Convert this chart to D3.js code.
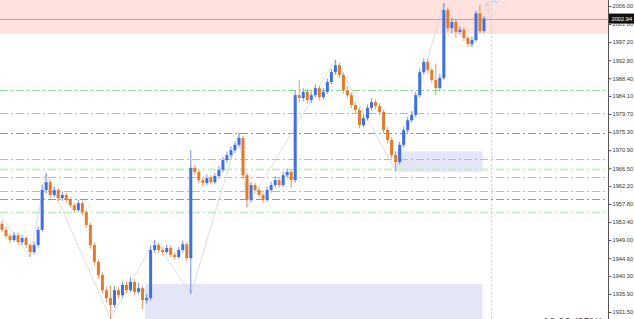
<!DOCTYPE html>
<html>
<head>
  <meta charset="utf-8">
  <script src="https://d3js.org/d3.v7.min.js"></script>
  <style>
    body { margin: 0; background: #fff; }
    svg { display: block; font-family: "Liberation Sans", Arial, sans-serif; }
  </style>
</head>
<body>
<script>
// candle data (open of each bar = previous close)
var firstOpen = 1953.0;
var closes = [1951.5,1950.0,1949.0,1950.2,1948.5,1949.5,1947.8,1946.1,1947.8,1951.5,
  1961.2,1963.1,1960.0,1961.2,1959.2,1960.0,1958.8,1957.5,1956.3,1958.0,
  1955.8,1952.7,1947.8,1943.7,1940.5,1936.8,1934.9,1933.2,1936.8,1935.6,
  1938.1,1936.8,1938.8,1936.4,1937.3,1934.4,1934.9,1946.6,1947.8,1946.6,
  1946.1,1947.1,1945.4,1944.9,1946.6,1948.0,1944.6,1966.6,1965.6,1963.6,
  1962.9,1964.1,1963.1,1964.6,1966.1,1968.5,1969.7,1970.9,1972.2,1973.9,
  1964.8,1958.8,1962.4,1961.2,1960.0,1958.8,1961.2,1962.4,1963.6,1962.4,
  1964.8,1965.6,1963.6,1984.3,1983.6,1985.1,1983.1,1984.3,1986.0,1983.8,
  1985.1,1987.5,1989.9,1991.6,1989.2,1985.5,1984.3,1981.9,1980.7,1977.0,
  1978.7,1981.2,1982.6,1981.6,1980.2,1975.8,1973.4,1969.7,1968.0,1972.2,
  1975.8,1978.2,1979.5,1984.3,1989.9,1992.4,1990.4,1988.0,1986.0,1988.5,
  2005.0,2000.6,2002.1,1999.7,2000.2,1998.2,1996.75,1997.7,2004.2,1999.9,2002.94];
var highs = [1953.8,1952.2,1950.6,1951.0,1950.8,1950.3,1950.0,1948.4,1948.6,1952.3,
  1962.5,1965.3,1963.8,1962.0,1961.8,1960.9,1960.5,1959.4,1958.1,1958.9,
  1958.6,1956.4,1953.3,1948.5,1944.3,1941.2,1937.6,1938.0,1937.8,1937.6,
  1939.0,1938.9,1939.9,1939.5,1938.6,1937.9,1935.9,1947.6,1949.0,1948.4,
  1947.3,1947.9,1947.7,1946.0,1947.3,1948.9,1948.5,1970.9,1967.4,1966.1,
  1964.3,1965.0,1964.8,1965.4,1967.0,1969.3,1970.6,1971.8,1973.0,1975.1,
  1974.4,1965.4,1963.2,1963.0,1961.9,1960.6,1962.0,1963.2,1964.5,1964.1,
  1965.7,1966.5,1966.2,1985.5,1988.0,1986.0,1985.8,1985.2,1986.9,1986.6,
  1986.0,1988.3,1990.7,1992.9,1992.2,1989.8,1986.5,1984.9,1982.6,1981.3,
  1979.6,1982.0,1983.5,1983.2,1982.3,1980.8,1976.5,1974.0,1970.6,1973.0,
  1976.6,1979.0,1980.4,1985.1,1990.8,1993.3,1993.0,1991.0,1992.0,1989.4,
  2006.7,2005.6,2003.0,2002.7,2001.0,2000.8,1998.8,1998.5,2004.9,2006.3,2003.6];
var lows = [1950.9,1949.4,1948.3,1948.6,1947.9,1947.8,1947.0,1944.9,1945.5,1947.2,
  1951.0,1960.3,1959.2,1959.4,1958.5,1958.6,1958.1,1956.9,1955.6,1955.9,
  1955.0,1952.0,1947.0,1942.8,1939.6,1935.9,1933.8,1929.8,1932.6,1934.8,
  1935.0,1936.0,1936.3,1935.6,1935.8,1932.2,1933.6,1934.3,1945.9,1945.9,
  1945.4,1945.6,1944.8,1944.2,1944.5,1946.0,1943.9,1935.9,1964.8,1962.8,
  1962.2,1962.4,1962.5,1962.6,1964.0,1965.5,1967.8,1969.0,1970.2,1971.6,
  1964.0,1957.0,1958.2,1960.5,1959.3,1958.0,1958.2,1960.6,1961.8,1961.7,
  1961.9,1964.1,1961.8,1963.0,1982.5,1982.8,1982.2,1982.4,1983.7,1983.0,
  1983.2,1984.6,1987.0,1989.3,1988.5,1984.7,1983.5,1981.1,1979.9,1976.2,
  1976.5,1978.1,1980.6,1980.9,1979.5,1975.0,1972.6,1968.9,1965.8,1967.4,
  1971.6,1975.2,1977.6,1978.9,1983.7,1989.4,1989.6,1987.3,1984.3,1985.5,
  1988.0,1999.8,1999.4,1998.2,1999.0,1997.4,1996.0,1996.1,1997.2,1999.3,1999.5];

// zigzag swing points (bar index, price)
var zzIndex = [-0.5, 7, 11, 27, 38, 47, 59, 61, 83, 98, 110, 117, 119];
var zzPrice = [1955.1, 1944.9, 1965.3, 1929.8, 1949.0, 1935.9, 1975.1, 1957.0, 1992.9, 1965.8, 2006.7, 1996.0, 2006.3];

// price axis labels
var tickValues = [2006.00, 2001.60, 1997.20, 1992.80, 1988.40, 1984.10, 1979.70, 1975.30, 1970.90,
  1966.50, 1962.20, 1957.80, 1953.40, 1949.00, 1944.60, 1940.30, 1935.90, 1931.50];
var lastPrice = 2002.94;

// horizontal levels: price and kind
var levelPrices = [1985.55, 1980.0, 1975.1, 1968.75, 1966.3, 1964.4, 1961.0, 1959.0, 1955.9];
var levelKinds  = ["green", "green", "red", "green", "light", "green", "green", "red", "light"];

// zones: [startBar, endBar, topPrice, bottomPrice]
var supplyZone = [-1, 131, 2015, 1999.2];
var demandZones = [[98, 120, 1970.6, 1965.6], [36, 120, 1938.3, 1925]];

var width = 634, height = 319, plotRight = 608;

var bars = closes.map(function (c, i) {
  return { i: i, open: i === 0 ? firstOpen : closes[i - 1], close: c, high: highs[i], low: lows[i] };
});

var svg = d3.select("body").append("svg")
  .attr("width", width)
  .attr("height", height);

var x = d3.scaleLinear().domain([0, 120]).range([2, 484]);
var y = d3.scaleLinear().domain([1931.5, 2006]).range([312, 6]);

var plot = svg.append("g");

// supply zone (pink)
plot.append("rect")
  .attr("x", 0).attr("width", plotRight)
  .attr("y", y(supplyZone[2])).attr("height", y(supplyZone[3]) - y(supplyZone[2]))
  .style("fill", "#ffe1de");

// demand zones (lavender)
plot.selectAll(".zone").data(demandZones).enter().append("rect")
  .attr("class", "zone")
  .attr("x", function (d) { return x(d[0]) - 1.5; })
  .attr("width", function (d) { return x(d[1]) - x(d[0]); })
  .attr("y", function (d) { return y(d[2]); })
  .attr("height", function (d) { return y(d[3]) - y(d[2]); })
  .style("fill", "#e5e5f8");

// level lines
var levelColor = { green: "#8cdc8c", red: "#e27585", light: "#c6eec6" };
plot.selectAll(".level").data(levelPrices).enter().append("line")
  .attr("x1", 0).attr("x2", plotRight)
  .attr("y1", function (d) { return Math.round(y(d)) + 0.5; })
  .attr("y2", function (d) { return Math.round(y(d)) + 0.5; })
  .style("stroke", function (d, i) { return levelColor[levelKinds[i]]; })
  .style("stroke-width", function (d, i) { return levelKinds[i] === "light" ? 2 : 1; })
  .style("stroke-dasharray", "8,3,2,3");

// vertical dotted time line
plot.append("line")
  .attr("x1", 491.5).attr("x2", 491.5).attr("y1", 0).attr("y2", height)
  .style("stroke", "#b9d6ef")
  .style("stroke-dasharray", "2,2");

plot.append("text")
  .attr("transform", "translate(489,20) rotate(-90)")
  .style("font-size", "5.5px")
  .style("fill", "#c4c4c4")
  .text("0:12:36");

plot.append("path")
  .attr("d", "M492,3 L494.5,0.5 L497,3")
  .style("fill", "none")
  .style("stroke", "#9cc4ea");

// zigzag
var zz = zzIndex.map(function (d, i) { return [x(d), y(zzPrice[i])]; });
plot.append("path")
  .attr("d", d3.line()(zz))
  .style("fill", "none")
  .style("stroke", "#d6d6d6")
  .style("stroke-width", 0.8);

// last price line
plot.append("line")
  .attr("x1", 0).attr("x2", plotRight)
  .attr("y1", Math.round(y(lastPrice)) + 0.5).attr("y2", Math.round(y(lastPrice)) + 0.5)
  .style("stroke", "#b3a9aa");

// candles
var up = "#3e6fe4", down = "#e27b2d";
var c = plot.selectAll(".candle").data(bars).enter().append("g").attr("class", "candle");
c.append("line")
  .attr("x1", function (d) { return x(d.i); })
  .attr("x2", function (d) { return x(d.i); })
  .attr("y1", function (d) { return y(d.high); })
  .attr("y2", function (d) { return y(d.low); })
  .style("stroke", function (d) { return d.close >= d.open ? up : down; })
  .style("stroke-opacity", 0.75)
  .style("stroke-width", 1);
c.append("rect")
  .attr("x", function (d) { return x(d.i) - 1.5; })
  .attr("width", 3)
  .attr("y", function (d) { return y(Math.max(d.open, d.close)); })
  .attr("height", function (d) { return Math.max(1, Math.abs(y(d.open) - y(d.close))); })
  .style("fill", function (d) { return d.close >= d.open ? up : down; });

// price axis
svg.append("rect")
  .attr("x", plotRight).attr("y", 0).attr("width", width - plotRight).attr("height", height)
  .style("fill", "#fff");

var axis = svg.append("g")
  .attr("transform", "translate(" + (plotRight + 0.5) + ",0)")
  .call(d3.axisRight(y).tickValues(tickValues).tickSize(3).tickPadding(1).tickFormat(d3.format(".2f")));
axis.select(".domain").attr("d", "M0,0V" + height).style("stroke", "#555");
axis.selectAll(".tick line").style("stroke", "#555");
axis.selectAll(".tick text").style("font-size", "5.7px").style("fill", "#333")
  .style("font-family", "'Liberation Sans', Arial, sans-serif");

// last price tag
svg.append("rect")
  .attr("x", plotRight + 1).attr("y", y(lastPrice) - 5).attr("width", width - plotRight - 1).attr("height", 10)
  .style("fill", "#111");
svg.append("text")
  .attr("x", plotRight + 3.5).attr("y", y(lastPrice) + 2)
  .style("font-size", "5.7px").style("fill", "#fff")
  .text(d3.format(".2f")(lastPrice));

// bottom-right timeframe label
svg.append("text")
  .attr("x", 603).attr("y", 326)
  .attr("text-anchor", "end")
  .style("font-size", "11px").style("fill", "#444")
  .text("16:00 (25%)");
</script>
</body>
</html>
